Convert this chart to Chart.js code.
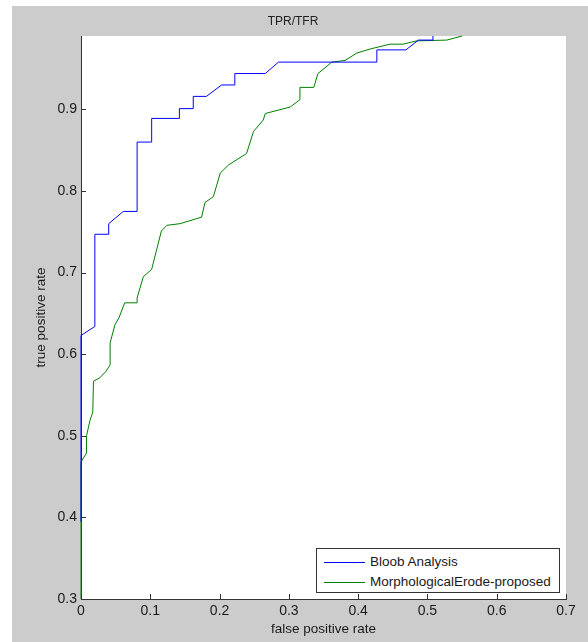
<!DOCTYPE html>
<html lang="en">
<head>
    <meta charset="UTF-8">
    <title>TPR/TFR</title>
    <script src="https://cdn.jsdelivr.net/npm/chart.js"></script>
    <style>
        body {
            margin: 0;
            background: #fff;
            font-family: 'Liberation Sans', Arial, sans-serif;
        }

        #fig {
            position: absolute;
            left: 12px;
            top: 6px;
            width: 576px;
            height: 636px;
            background: #cccccc;
        }

        #legend {
            position: absolute;
            left: 304px;
            top: 542px;
            width: 244px;
            height: 45px;
            box-sizing: border-box;
            border: 1px solid #333;
            background: #fff;
        }

        .item {
            position: absolute;
            left: 53px;
            font-size: 13.5px;
            line-height: 16px;
            color: #1a1a1a;
            white-space: nowrap;
        }

        .swatch {
            position: absolute;
            left: 7px;
            width: 41px;
            height: 1px;
        }
    </style>
</head>
<body>
    <div id="fig">
        <canvas id="roc" width="576" height="636"></canvas>
        <div id="legend"></div>
    </div>

    <script>
        // valores
        const seriesLabels = ["Bloob Analysis", "MorphologicalErode-proposed"];
        const seriesColors = ["#0000ff", "#008000"];

        const fprBloob = [0, 0, 0.02, 0.02, 0.04, 0.04, 0.061, 0.081, 0.081, 0.102, 0.102, 0.142, 0.142,
            0.162, 0.162, 0.181, 0.203, 0.222, 0.222, 0.266, 0.285, 0.427, 0.427, 0.469, 0.487, 0.508, 0.508];
        const tprBloob = [0.395, 0.623, 0.634, 0.747, 0.747, 0.760, 0.775, 0.775, 0.860, 0.860, 0.889, 0.889, 0.901,
            0.901, 0.916, 0.916, 0.930, 0.930, 0.944, 0.944, 0.958, 0.958, 0.973, 0.973, 0.985, 0.985, 0.99];

        const fprMorph = [0, 0, 0.008, 0.008, 0.013, 0.017, 0.018, 0.027, 0.036, 0.042, 0.042, 0.049, 0.055, 0.063,
            0.081, 0.081, 0.09, 0.102, 0.116, 0.124, 0.143, 0.174, 0.179, 0.191, 0.201, 0.213, 0.239, 0.249,
            0.263, 0.266, 0.302, 0.316, 0.316, 0.336, 0.342, 0.362, 0.381, 0.398, 0.417, 0.446, 0.465, 0.484,
            0.528, 0.55];
        const tprMorph = [0.3, 0.468, 0.479, 0.5, 0.519, 0.529, 0.567, 0.571, 0.579, 0.587, 0.614, 0.636, 0.645, 0.663,
            0.663, 0.669, 0.695, 0.704, 0.751, 0.758, 0.760, 0.768, 0.786, 0.793, 0.822, 0.832, 0.846, 0.873,
            0.887, 0.895, 0.903, 0.912, 0.927, 0.927, 0.944, 0.958, 0.960, 0.969, 0.974, 0.980, 0.980, 0.984,
            0.985, 0.99];

        const xTicks = [0, 0.1, 0.2, 0.3, 0.4, 0.5, 0.6, 0.7];
        const yTicks = [0.3, 0.4, 0.5, 0.6, 0.7, 0.8, 0.9];

        const toPoints = (xs, ys) => xs.map((x, i) => ({ x: x, y: ys[i] }));

        const axisColor = "#333";
        const tickFont = { family: "'Liberation Sans', Arial, sans-serif", size: 14 };
        const titleFont = { family: "'Liberation Sans', Arial, sans-serif", size: 13.5 };

        const whiteArea = {
            id: "whiteArea",
            beforeDraw(chart) {
                const a = chart.chartArea;
                chart.ctx.save();
                chart.ctx.fillStyle = "#fff";
                chart.ctx.fillRect(a.left, a.top, a.right - a.left, a.bottom - a.top);
                chart.ctx.restore();
            }
        };

        // marcas hacia dentro, como en matlab
        const innerTicks = {
            id: "innerTicks",
            afterDatasetsDraw(chart) {
                const ctx = chart.ctx;
                const a = chart.chartArea;
                const sx = chart.scales.x, sy = chart.scales.y;
                ctx.save();
                ctx.strokeStyle = axisColor;
                ctx.lineWidth = 1;
                ctx.beginPath();
                sx.ticks.forEach(t => {
                    const px = Math.round(sx.getPixelForValue(t.value)) + 0.5;
                    ctx.moveTo(px, a.bottom);
                    ctx.lineTo(px, a.bottom - 5);
                });
                sy.ticks.forEach(t => {
                    const py = Math.round(sy.getPixelForValue(t.value)) + 0.5;
                    ctx.moveTo(a.left, py);
                    ctx.lineTo(a.left + 5, py);
                });
                ctx.stroke();
                ctx.restore();
            }
        };

        const chart = new Chart(document.getElementById("roc"), {
            type: "scatter",
            data: {
                datasets: [
                    {
                        label: seriesLabels[0],
                        data: toPoints(fprBloob, tprBloob),
                        borderColor: seriesColors[0],
                        borderWidth: 1,
                        showLine: true,
                        pointRadius: 0,
                        tension: 0,
                        clip: 3
                    },
                    {
                        label: seriesLabels[1],
                        data: toPoints(fprMorph, tprMorph),
                        borderColor: seriesColors[1],
                        borderWidth: 1,
                        showLine: true,
                        pointRadius: 0,
                        tension: 0,
                        clip: 3
                    }
                ]
            },
            options: {
                responsive: false,
                animation: false,
                devicePixelRatio: 1,
                layout: { padding: { left: 8, right: 22, top: 0, bottom: 0 } },
                plugins: {
                    legend: { display: false },
                    tooltip: { enabled: false },
                    title: {
                        display: true,
                        text: "TPR/TFR",
                        color: "#222",
                        font: { family: "'Liberation Sans', Arial, sans-serif", size: 12, weight: "normal" },
                        padding: { top: 8, bottom: 7.6 }
                    }
                },
                scales: {
                    x: {
                        type: "linear",
                        min: 0,
                        max: 0.7,
                        afterFit: s => { s.height = 43; },
                        afterBuildTicks: s => { s.ticks = xTicks.map(v => ({ value: v })); },
                        grid: { drawOnChartArea: false, drawTicks: false },
                        border: { color: axisColor, width: 1 },
                        ticks: { color: "#1a1a1a", font: tickFont, padding: 3.6, maxRotation: 0,
                            callback: v => String(Math.round(v * 10) / 10) },
                        title: { display: true, text: "false positive rate", color: "#1a1a1a", font: titleFont,
                            padding: { top: 0, bottom: 5 } }
                    },
                    y: {
                        type: "linear",
                        min: 0.3,
                        max: 0.99,
                        afterFit: s => { s.width = 61; },
                        afterBuildTicks: s => { s.ticks = yTicks.map(v => ({ value: v })); },
                        grid: { drawOnChartArea: false, drawTicks: false },
                        border: { color: axisColor, width: 1 },
                        ticks: { color: "#1a1a1a", font: tickFont, padding: 4,
                            callback: v => (Math.round(v * 10) / 10).toFixed(1) },
                        title: { display: true, text: "true positive rate", color: "#1a1a1a", font: titleFont,
                            padding: { top: 13, bottom: 0 } }
                    }
                }
            },
            plugins: [whiteArea, innerTicks]
        });

        // leyenda dentro del área, abajo a la derecha
        const legend = document.getElementById("legend");
        chart.data.datasets.forEach((ds, i) => {
            const sw = document.createElement("div");
            sw.className = "swatch";
            sw.style.top = (13 + i * 20) + "px";
            sw.style.backgroundColor = seriesColors[i];
            legend.appendChild(sw);

            const txt = document.createElement("div");
            txt.className = "item";
            txt.style.top = (5 + i * 20) + "px";
            txt.textContent = ds.label;
            legend.appendChild(txt);
        });
    </script>
</body>
</html>
